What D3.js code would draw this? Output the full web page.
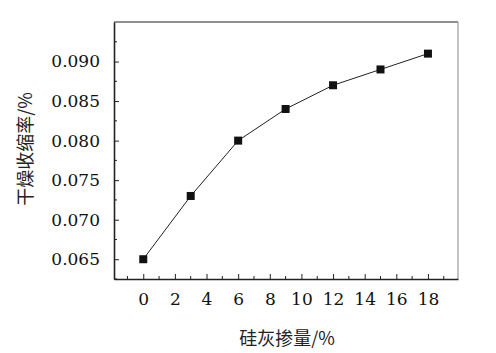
<!DOCTYPE html>
<html>
<head>
<meta charset="utf-8">
<script src="https://cdn.jsdelivr.net/npm/d3@7"></script>
<style>
  body { margin: 0; background: #fff; }
</style>
</head>
<body>
<div class="chart"></div>
<script>
// silica fume dosage (%) vs drying shrinkage (%)
const dosage = [0, 3, 6, 9, 12, 15, 18];
const shrinkage = [0.065, 0.073, 0.080, 0.084, 0.087, 0.089, 0.091];
const xTicks = [0, 2, 4, 6, 8, 10, 12, 14, 16, 18];
const yTicks = [0.065, 0.070, 0.075, 0.080, 0.085, 0.090];
const xLabel = '硅灰掺量/%';
const yLabel = '干燥收缩率/%';

const data = dosage.map((d, i) => ({ x: d, y: shrinkage[i] }));

const serif = "'DejaVu Serif', serif";

// layout
const margin = { top: 22, right: 38, bottom: 74, left: 114 };
const width = 496 - margin.left - margin.right;
const height = 353 - margin.top - margin.bottom;

const svg = d3.select('.chart')
  .append('svg')
  .attr('width', 496)
  .attr('height', 353);

const g = svg.append('g')
  .attr('transform', `translate(${margin.left}, ${margin.top})`);

// scales
const xScale = d3.scaleLinear()
  .domain([-1.85, 19.9])
  .range([0, width]);

const yScale = d3.scaleLinear()
  .domain([0.0625, 0.095])
  .range([height, 0]);

// frame: top darker, right lighter
g.append('line')
  .attr('x1', 0).attr('x2', width).attr('y1', 0).attr('y2', 0)
  .attr('stroke', '#222').attr('stroke-width', 1.2);
g.append('line')
  .attr('x1', width).attr('x2', width).attr('y1', 0).attr('y2', height)
  .attr('stroke', '#888').attr('stroke-width', 1);

// minor ticks (inward)
const xMinor = d3.range(-1, 20, 2);
g.append('g')
  .selectAll('line')
  .data(xMinor)
  .join('line')
  .attr('x1', d => xScale(d)).attr('x2', d => xScale(d))
  .attr('y1', height).attr('y2', height - 3)
  .attr('stroke', '#222');

const yMinor = d3.range(0.0625, 0.0951, 0.005);
g.append('g')
  .selectAll('line')
  .data(yMinor)
  .join('line')
  .attr('x1', 0).attr('x2', 3)
  .attr('y1', d => yScale(d)).attr('y2', d => yScale(d))
  .attr('stroke', '#222');

// x axis
const xAxis = d3.axisBottom(xScale)
  .tickValues(xTicks)
  .tickFormat(d3.format('d'))
  .tickSizeInner(-5)
  .tickSizeOuter(0)
  .tickPadding(14);

const xAxisDraw = g.append('g')
  .attr('transform', `translate(0, ${height})`)
  .call(xAxis);
xAxisDraw.select('.domain').attr('stroke', '#222').attr('stroke-width', 1.6);
xAxisDraw.selectAll('.tick line').attr('stroke', '#222');
xAxisDraw.selectAll('text')
  .style('font-family', serif)
  .style('font-size', '17px')
  .style('fill', '#111');

// y axis
const yAxis = d3.axisLeft(yScale)
  .tickValues(yTicks)
  .tickFormat(d3.format('.3f'))
  .tickSizeInner(-5)
  .tickSizeOuter(0)
  .tickPadding(14);

const yAxisDraw = g.append('g')
  .call(yAxis);
yAxisDraw.select('.domain').attr('stroke', '#222').attr('stroke-width', 1.6);
yAxisDraw.selectAll('.tick line').attr('stroke', '#222');
yAxisDraw.selectAll('text')
  .style('font-family', serif)
  .style('font-size', '17px')
  .style('fill', '#111');

// line
const line = d3.line()
  .x(d => xScale(d.x))
  .y(d => yScale(d.y));

g.append('path')
  .datum(data)
  .attr('d', line)
  .attr('fill', 'none')
  .attr('stroke', '#222')
  .attr('stroke-width', 1);

// square markers
const s = 8;
g.selectAll('.pt')
  .data(data)
  .join('rect')
  .attr('class', 'pt')
  .attr('x', d => xScale(d.x) - s / 2)
  .attr('y', d => yScale(d.y) - s / 2)
  .attr('width', s)
  .attr('height', s)
  .attr('fill', '#111');

// axis titles
svg.append('text')
  .attr('x', 287)
  .attr('y', 345)
  .attr('text-anchor', 'middle')
  .style('font-family', "'Noto Sans CJK SC', sans-serif")
  .style('font-size', '18px')
  .style('fill', '#222')
  .text(xLabel);

svg.append('text')
  .attr('transform', 'translate(32, 149) rotate(-90)')
  .attr('text-anchor', 'middle')
  .style('font-family', "'Noto Sans CJK SC', sans-serif")
  .style('font-size', '18px')
  .style('fill', '#222')
  .text(yLabel);
</script>
</body>
</html>
